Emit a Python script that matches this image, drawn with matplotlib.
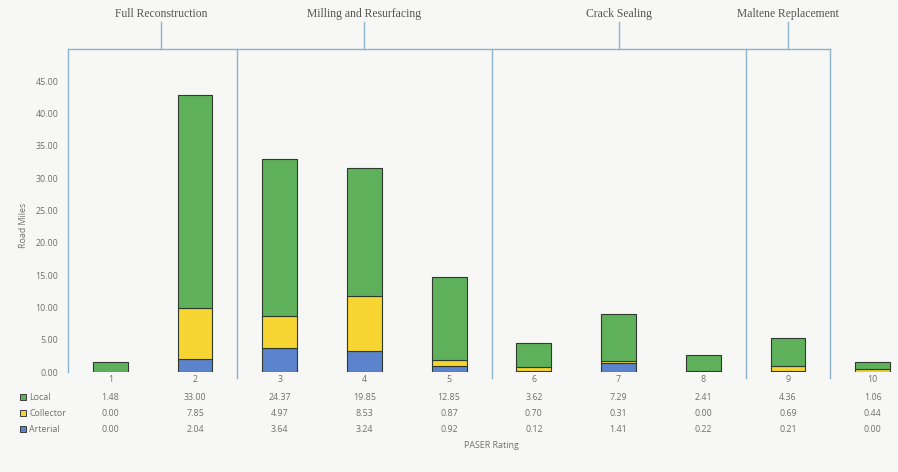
import matplotlib
matplotlib.use("Agg")
import matplotlib.pyplot as plt
from matplotlib.transforms import blended_transform_factory
from matplotlib.patches import Rectangle

# PASER ratings and road miles by functional class
ratings = [1, 2, 3, 4, 5, 6, 7, 8, 9, 10]
local = [1.48, 33.00, 24.37, 19.85, 12.85, 3.62, 7.29, 2.41, 4.36, 1.06]
collector = [0.00, 7.85, 4.97, 8.53, 0.87, 0.70, 0.31, 0.00, 0.69, 0.44]
arterial = [0.00, 2.04, 3.64, 3.24, 0.92, 0.12, 1.41, 0.22, 0.21, 0.00]

# treatment groups: (label, first rating, last rating)
treatments = [
    ("Full Reconstruction", 1, 2),
    ("Milling and Resurfacing", 3, 5),
    ("Crack Sealing", 6, 8),
    ("Maltene Replacement", 9, 9),
]

yticks = [0, 5, 10, 15, 20, 25, 30, 35, 40, 45]

c_local = "#5fb05a"
c_coll = "#f7d532"
c_art = "#5b84cc"
c_line = "#8fb4c9"
c_text = "#707070"
bg = "#f7f7f5"
fs = 6.4

W, H = 898, 472
fig = plt.figure(figsize=(W / 100, H / 100), dpi=100, facecolor=bg)
ax_left, ax_bottom, ax_top = 68, 372, 49
ax_right = 68 + 10 * 84.7
ax = fig.add_axes([ax_left / W, (H - ax_bottom) / H,
                   (ax_right - ax_left) / W, (ax_bottom - ax_top) / H])
ax.set_facecolor(bg)
ax.set_xlim(0.5, 10.5)
ax.set_ylim(0, 50)

width = 0.41
edge = dict(edgecolor="#2f3a2f", linewidth=0.8)
bottom_coll = arterial
bottom_local = [a + c for a, c in zip(arterial, collector)]
ax.bar(ratings, arterial, width, color=c_art, **edge)
ax.bar(ratings, collector, width, bottom=bottom_coll, color=c_coll, **edge)
ax.bar(ratings, local, width, bottom=bottom_local, color=c_local, **edge)

for s in ["top", "right", "bottom"]:
    ax.spines[s].set_visible(False)
ax.spines["left"].set_color(c_line)
ax.spines["left"].set_linewidth(1.0)
ax.set_yticks(yticks)
ax.set_yticklabels([f"{v:.2f}" for v in yticks], fontsize=fs, color=c_text,
                   family="Open Sans")
ax.tick_params(axis="y", length=0, pad=7)
ax.set_xticks([])
fig.text(23 / W, (H - 225) / H, "Road Miles", rotation=90, ha="center",
         va="center", fontsize=fs, color=c_text, family="Open Sans")

# treatment brackets and dividers
tr = blended_transform_factory(ax.transData, fig.transFigure)
y_top = (H - ax_top) / H
y_stub = (H - 22) / H
y_label = (H - 14) / H
y_bot = (H - 378) / H
first = treatments[0][1] - 0.5
last = treatments[-1][2] + 0.5
ax.plot([first, last], [y_top, y_top], transform=tr, color=c_line, lw=1.0,
        clip_on=False)
for name, lo, hi in treatments:
    x0, x1 = lo - 0.5, hi + 0.5
    mid = (x0 + x1) / 2 + (0.1 if lo == 1 else 0)
    ax.plot([mid, mid], [y_top, y_stub], transform=tr, color=c_line, lw=1.0,
            clip_on=False)
    ax.text(mid, y_label, name, transform=tr, ha="center", va="center",
            fontsize=8.4, color="#555555", family="Liberation Serif")
    if lo != 1:
        ax.plot([x0, x0], [y_top, y_bot], transform=tr, color=c_line, lw=1.0,
                clip_on=False)
ax.plot([last, last], [y_top, y_bot], transform=tr, color=c_line, lw=1.0,
        clip_on=False)

# data table under the bars
row_y = {"cat": (H - 380) / H, "Local": (H - 397) / H,
         "Collector": (H - 413) / H, "Arterial": (H - 429) / H}
for i, r in enumerate(ratings):
    ax.text(r, row_y["cat"], str(r), transform=tr, ha="center", va="center",
            fontsize=fs, color=c_text, family="Open Sans")
    for key, vals in (("Local", local), ("Collector", collector),
                      ("Arterial", arterial)):
        ax.text(r, row_y[key], f"{vals[i]:.2f}", transform=tr, ha="center",
                va="center", fontsize=fs, color=c_text, family="Open Sans")

for key, col in (("Local", c_local), ("Collector", c_coll), ("Arterial", c_art)):
    yc = row_y[key]
    fig.patches.append(Rectangle((20 / W, yc - 3 / H), 6 / W, 6 / H,
                                 transform=fig.transFigure, facecolor=col,
                                 edgecolor="#3a3a3a", linewidth=0.7))
    fig.text(29 / W, yc, key, ha="left", va="center", fontsize=fs,
             color=c_text, family="Open Sans")

ax.text(5.5, (H - 446) / H, "PASER Rating", transform=tr, ha="center",
        va="center", fontsize=fs, color=c_text, family="Open Sans")

fig.savefig("out.png", dpi=100, facecolor=bg)
